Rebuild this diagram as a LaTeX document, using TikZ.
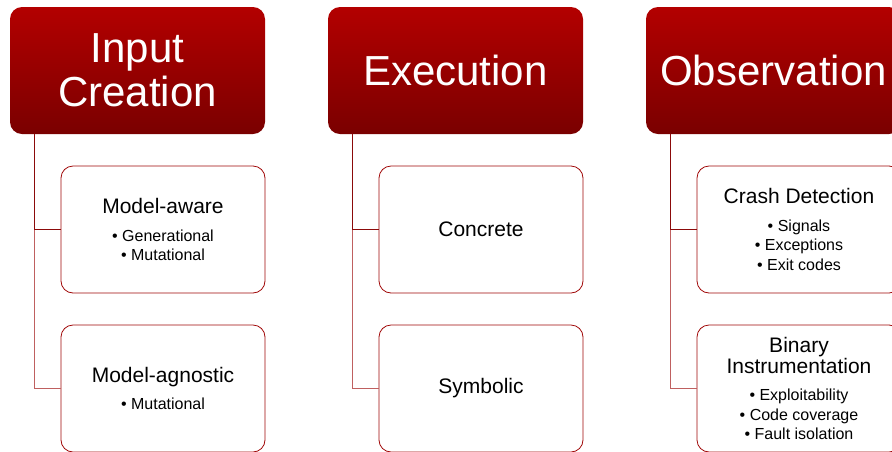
\documentclass[tikz,border=0pt]{standalone}
\usepackage{fontspec}
\setmainfont{Liberation Sans}
\usepackage{tikz}
\usetikzlibrary{positioning}
\definecolor{hdrtop}{HTML}{B30000}
\definecolor{hdrbot}{HTML}{7A0000}
\definecolor{boxred}{HTML}{A00808}
\definecolor{linedark}{HTML}{8B0A0A}
\definecolor{linelight}{HTML}{BF6060}
\newcommand{\ttl}[1]{{\fontsize{21}{21}\selectfont #1}}

\begin{document}
\begin{tikzpicture}[x=1pt, y=-1pt,
  hdr/.style={draw=none, rounded corners=12pt, top color=hdrtop,
              bottom color=hdrbot, text=white, minimum width=255pt,
              minimum height=127pt, align=center,
              font=\fontsize{42}{44}\selectfont},
  sub/.style={draw=boxred, fill=white, rounded corners=12pt,
              minimum width=204pt, minimum height=127pt, line width=0.8pt,
              align=center, text=black, font=\fontsize{16}{19.5}\selectfont},
  trunk/.style={line width=0.8pt, color=linedark},
  twig/.style={line width=0.8pt, color=linelight}
]
\clip (0,0) rectangle (892,451);

% Headers
\node[hdr] (hin) at (137.5, 70.5) {Input\\Creation};
\node[hdr] (hex) at (455.5, 70.5) {Execution};
\node[hdr] (hob) at (773.5, 70.5) {Observation};

% Input creation
\node[sub] (cma) at (163, 229.5)
  {\ttl{Model-aware}\\[8pt]• Generational\\• Mutational};
\node[sub] (cmg) at (163, 388.5)
  {\ttl{Model-agnostic}\\[8pt]• Mutational};

% Execution
\node[sub] (cco) at (481, 229.5) {\ttl{Concrete}};
\node[sub] (csy) at (481, 388.5) {\ttl{Symbolic}};

% Observation
\node[sub] (ccr) at (799, 229.5)
  {\ttl{Crash Detection}\\[8pt]• Signals\\• Exceptions\\• Exit codes};
\node[sub] (cbi) at (799, 388.5)
  {\ttl{Binary}\\\ttl{Instrumentation}\\[8pt]• Exploitability\\
   • Code coverage\\• Fault isolation};

% Connectors
\coordinate (tin) at ([xshift=25pt]hin.south west);
\coordinate (tex) at ([xshift=25pt]hex.south west);
\coordinate (tob) at ([xshift=25pt]hob.south west);

\draw[trunk] (tin) |- (cma.west);
\draw[twig] (tin |- cma.west) |- (cmg.west);
\draw[trunk] (tex) |- (cco.west);
\draw[twig] (tex |- cco.west) |- (csy.west);
\draw[trunk] (tob) |- (ccr.west);
\draw[twig] (tob |- ccr.west) |- (cbi.west);

\end{tikzpicture}
\end{document}
